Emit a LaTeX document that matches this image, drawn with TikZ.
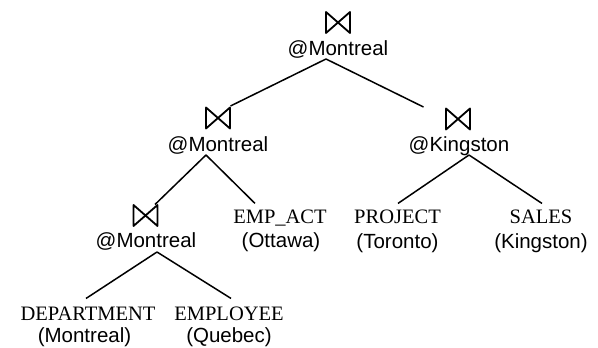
\documentclass[tikz,border=0pt]{standalone}
\usepackage{fontspec}
\setmainfont{Liberation Serif}
\newfontfamily\arialfont{Liberation Sans}
\begin{document}
\begin{tikzpicture}[x=1pt,y=-1pt,
  joinbox/.style={minimum width=24pt,minimum height=21pt,inner sep=0pt,outer sep=0pt},
  joinline/.style={line width=1.8pt,line join=round},
  site/.style={inner sep=0pt,outer sep=0pt,anchor=base,font=\arialfont\fontsize{20.5}{24}\selectfont},
  rel/.style={inner sep=0pt,outer sep=0pt,anchor=base,font=\fontsize{20.5}{24}\selectfont},
  edge/.style={line width=1.5pt}]
\useasboundingbox (0,0) rectangle (598,348);
% join operators
\node[joinbox] (j1b) at (338,22.5) {};
\node[site] (j1) at (338,55) {@Montreal};
\node[joinbox] (j2b) at (218,118) {};
\node[site] (j2) at (218,151) {@Montreal};
\node[joinbox] (j3b) at (458,119) {};
\node[site] (j3) at (459,151) {@Kingston};
\node[joinbox] (j4b) at (145.5,215.5) {};
\node[site] (j4) at (146,247) {@Montreal};
\foreach \b in {j1b,j2b,j3b,j4b}
  \draw[joinline] (\b.north west) -- (\b.south west) -- (\b.north east) -- (\b.south east) -- cycle;
% relations
\node[rel] (dep) at (88,320) {DEPARTMENT};
\node[site] (depl) at (84.5,342) {(Montreal)};
\node[rel] (emp) at (229,320) {EMPLOYEE};
\node[site] (empl) at (229,342) {(Quebec)};
\node[rel] (act) at (280,223) {EMP\_ACT};
\node[site] (actl) at (281,247) {(Ottawa)};
\node[rel] (proj) at (397.5,223) {PROJECT};
\node[site] (projl) at (397.5,248) {(Toronto)};
\node[rel] (sales) at (541,223) {SALES};
\node[site] (salesl) at (541,248) {(Kingston)};
% connectors
\draw[edge] ([shift={(-12,4)}]j1.base) -- ([shift={(0.5,-1.5)}]j2b.north east);
\draw[edge] ([shift={(-12,4)}]j1.base) -- ([shift={(-22.5,-1.5)}]j3b.north west);
\draw[edge] ([shift={(-12,4)}]j2.base) -- ([shift={(-2.5,-0.5)}]j4b.north east);
\draw[edge] ([shift={(-12,4)}]j2.base) -- ([shift={(-25,-6)}]act.north);
\draw[edge] ([shift={(11,5)}]j4.base) -- ([shift={(-2,-8)}]dep.north);
\draw[edge] ([shift={(11,5)}]j4.base) -- ([shift={(2,-8)}]emp.north);
\draw[edge] ([shift={(10,4)}]j3.base) -- ([shift={(0.5,-6)}]proj.north);
\draw[edge] ([shift={(10,4)}]j3.base) -- ([shift={(1,-6)}]sales.north);
\end{tikzpicture}
\end{document}
